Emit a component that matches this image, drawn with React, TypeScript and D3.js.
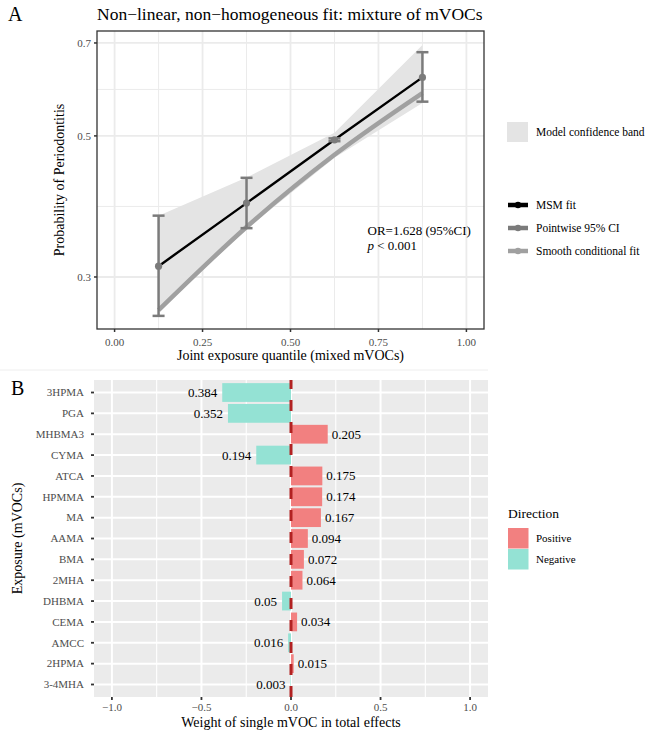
import React from "react";
import * as d3 from "d3";

// ---------- Panel A data ----------
const quantiles = [0.125, 0.375, 0.625, 0.875];
const msmFit = [0.312, 0.392, 0.493, 0.618];
const ciLower = [0.2606, 0.358, 0.4905, 0.566];
const ciUpper = [0.3746, 0.4296, 0.4955, 0.677];
const smoothFit = [0.266, 0.3595, 0.467, 0.584];
const bandLower = [0.2645, 0.357, 0.462, 0.563];
const bandUpper = [0.3746, 0.43, 0.5056, 0.695];
const xTicksA = [0, 0.25, 0.5, 0.75, 1];
const xTickLabelsA = ["0.00", "0.25", "0.50", "0.75", "1.00"];
const yTicksA = [0.3, 0.5, 0.7];
const yTickLabelsA = ["0.3", "0.5", "0.7"];

// ---------- Panel B data ----------
const exposures = ["3HPMA", "PGA", "MHBMA3", "CYMA", "ATCA", "HPMMA", "MA", "AAMA", "BMA", "2MHA", "DHBMA", "CEMA", "AMCC", "2HPMA", "3-4MHA"];
const weights = [-0.384, -0.352, 0.205, -0.194, 0.175, 0.174, 0.167, 0.094, 0.072, 0.064, -0.05, 0.034, -0.016, 0.015, -0.003];
const xTicksB = [-1, -0.5, 0, 0.5, 1];
const xTickLabelsB = ["\u22121.0", "\u22120.5", "0.0", "0.5", "1.0"];
const directions = ["Positive", "Negative"];

const FONT = "'Liberation Serif', 'Times New Roman', serif";
const AXIS_TEXT = "#4d4d4d";
const BAND = "#e4e4e4";
const CI_COL = "#7b7b7b";
const SMOOTH_COL = "#a0a0a0";
const POS_COL = "#F28080";
const NEG_COL = "#94E2D4";

export default function App() {
  // Panel A geometry
  const aL = 97, aR = 484, aT = 31, aB = 329;
  const xA = d3.scaleLinear().domain([-0.05, 1.05]).range([aL, aR]);
  const yA = d3.scaleLog().domain([0.2485, 0.731]).range([aB, aT]);
  const xMinorA = d3.pairs(xTicksA).map(([a, b]) => (a + b) / 2);
  const yMinorA = d3.pairs(yTicksA).map(([a, b]) => Math.sqrt(a * b));

  const bandArea = d3.area<number>()
    .x((_, i) => xA(quantiles[i]))
    .y0((_, i) => yA(bandLower[i]))
    .y1((_, i) => yA(bandUpper[i]))(quantiles);
  const smoothPath = d3.line<number>()
    .x((_, i) => xA(quantiles[i]))
    .y((d) => yA(d))
    .curve(d3.curveMonotoneX)(smoothFit);
  const msmPath = d3.line<number>()
    .x((_, i) => xA(quantiles[i]))
    .y((d) => yA(d))(msmFit);

  // Panel B geometry
  const bL = 94, bR = 488, bT = 380, bB = 697;
  const xB = d3.scaleLinear().domain([-1.1, 1.1]).range([bL, bR]);
  const yB = d3.scaleBand<string>().domain(exposures).range([bT, bB]).paddingInner(0.1).paddingOuter(0.15);
  const xMinorB = d3.pairs(xTicksB).map(([a, b]) => (a + b) / 2);
  const colorB = d3.scaleOrdinal<string, string>().domain(directions).range([POS_COL, NEG_COL]);

  const legendLines = [
    { label: "MSM fit", color: "#000000" },
    { label: "Pointwise 95% CI", color: CI_COL },
    { label: "Smooth conditional fit", color: SMOOTH_COL },
  ];

  return (
    <svg width={669} height={739} style={{ position: "absolute", left: 0, top: 0, background: "#fff" }} fontFamily={FONT}>
      <rect x={0} y={0} width={669} height={739} fill="#fff" />
      {/* ===== Panel A ===== */}
      <text x={8} y={21} fontSize={20} fill="#000">A</text>
      <text x={aL} y={19.5} fontSize={17.5} fill="#000">Non−linear, non−homogeneous fit: mixture of mVOCs</text>
      <rect x={aL} y={aT} width={aR - aL} height={aB - aT} fill="#fff" />
      {xMinorA.map((v) => (
        <line key={"xm" + v} x1={xA(v)} x2={xA(v)} y1={aT} y2={aB} stroke="#ebebeb" strokeWidth={1} />
      ))}
      {yMinorA.map((v) => (
        <line key={"ym" + v} y1={yA(v)} y2={yA(v)} x1={aL} x2={aR} stroke="#ebebeb" strokeWidth={1} />
      ))}
      {xTicksA.map((v) => (
        <line key={"xg" + v} x1={xA(v)} x2={xA(v)} y1={aT} y2={aB} stroke="#ebebeb" strokeWidth={1.8} />
      ))}
      {yTicksA.map((v) => (
        <line key={"yg" + v} y1={yA(v)} y2={yA(v)} x1={aL} x2={aR} stroke="#ebebeb" strokeWidth={1.8} />
      ))}
      <path d={bandArea || ""} fill={BAND} />
      <path d={smoothPath || ""} fill="none" stroke={SMOOTH_COL} strokeWidth={4.5} />
      <path d={msmPath || ""} fill="none" stroke="#000" strokeWidth={2.4} />
      {quantiles.map((q, i) => (
        <g key={"eb" + q} stroke={CI_COL} strokeWidth={2.5}>
          <line x1={xA(q)} x2={xA(q)} y1={yA(ciLower[i])} y2={yA(ciUpper[i])} />
          <line x1={xA(q) - 6} x2={xA(q) + 6} y1={yA(ciLower[i])} y2={yA(ciLower[i])} />
          <line x1={xA(q) - 6} x2={xA(q) + 6} y1={yA(ciUpper[i])} y2={yA(ciUpper[i])} />
        </g>
      ))}
      {quantiles.map((q, i) => (
        <circle key={"pt" + q} cx={xA(q)} cy={yA(msmFit[i])} r={3.6} fill={CI_COL} />
      ))}
      <rect x={aL} y={aT} width={aR - aL} height={aB - aT} fill="none" stroke="#333" strokeWidth={1.3} />
      {/* annotation */}
      <text x={367.5} y={235} fontSize={13} fill="#000">OR=1.628 (95%CI)</text>
      <text x={367.5} y={250} fontSize={13} fill="#000"><tspan fontStyle="italic">p</tspan> &lt; 0.001</text>
      {/* axes A */}
      {yTicksA.map((v, i) => (
        <g key={"yt" + v}>
          <line x1={aL - 3} x2={aL} y1={yA(v)} y2={yA(v)} stroke="#333" strokeWidth={1.5} />
          <text x={aL - 6} y={yA(v)} dy="0.35em" textAnchor="end" fontSize={11} fill={AXIS_TEXT}>{yTickLabelsA[i]}</text>
        </g>
      ))}
      {xTicksA.map((v, i) => (
        <g key={"xt" + v}>
          <line x1={xA(v)} x2={xA(v)} y1={aB} y2={aB + 3} stroke="#333" strokeWidth={1.5} />
          <text x={xA(v)} y={aB + 17} textAnchor="middle" fontSize={11} fill={AXIS_TEXT}>{xTickLabelsA[i]}</text>
        </g>
      ))}
      <text x={(aL + aR) / 2} y={360} textAnchor="middle" fontSize={14} fill="#000">Joint exposure quantile (mixed mVOCs)</text>
      <text transform={`translate(64,${(aT + aB) / 2}) rotate(-90)`} textAnchor="middle" fontSize={14} fill="#000">Probability of Periodontitis</text>
      {/* legend A */}
      <rect x={507} y={122} width={21} height={20} fill={BAND} />
      <text x={536} y={132} dy="0.35em" fontSize={11.5} fill="#000">Model confidence band</text>
      {legendLines.map((l, i) => (
        <g key={l.label}>
          <line x1={508} x2={528} y1={205 + i * 23} y2={205 + i * 23} stroke={l.color} strokeWidth={4.5} />
          <circle cx={518} cy={205 + i * 23} r={3.2} fill={l.color} />
          <text x={536} y={205 + i * 23} dy="0.35em" fontSize={11.5} fill="#000">{l.label}</text>
        </g>
      ))}
      <line x1={0} x2={488} y1={370} y2={370} stroke="#eeeeee" strokeWidth={1} />

      {/* ===== Panel B ===== */}
      <text x={11} y={395} fontSize={20} fill="#000">B</text>
      <rect x={bL} y={bT} width={bR - bL} height={bB - bT} fill="#ebebeb" />
      {xMinorB.map((v) => (
        <line key={"bxm" + v} x1={xB(v)} x2={xB(v)} y1={bT} y2={bB} stroke="#fff" strokeWidth={1.1} />
      ))}
      {xTicksB.map((v) => (
        <line key={"bxg" + v} x1={xB(v)} x2={xB(v)} y1={bT} y2={bB} stroke="#fff" strokeWidth={2} />
      ))}
      {exposures.map((e) => (
        <line key={"byg" + e} x1={bL} x2={bR} y1={(yB(e) || 0) + yB.bandwidth() / 2} y2={(yB(e) || 0) + yB.bandwidth() / 2} stroke="#fff" strokeWidth={2} />
      ))}
      {exposures.map((e, i) => {
        const w = weights[i];
        const x0 = xB(Math.min(0, w));
        const x1 = xB(Math.max(0, w));
        return (
          <rect key={"bar" + e} x={x0} y={yB(e)} width={x1 - x0} height={yB.bandwidth()} fill={colorB(w >= 0 ? "Positive" : "Negative")} />
        );
      })}
      {exposures.map((e, i) => {
        const w = weights[i];
        const cy = (yB(e) || 0) + yB.bandwidth() / 2;
        return (
          <text key={"lab" + e} x={w >= 0 ? xB(w) + 4 : xB(w) - 5} y={cy} dy="0.35em" textAnchor={w >= 0 ? "start" : "end"} fontSize={13} fill="#000">
            {String(Math.abs(w))}
          </text>
        );
      })}
      <line x1={xB(0)} x2={xB(0)} y1={bB} y2={bT} stroke="#B22222" strokeWidth={3} strokeDasharray="11,11" />
      {/* axes B */}
      {exposures.map((e) => {
        const cy = (yB(e) || 0) + yB.bandwidth() / 2;
        return (
          <g key={"byt" + e}>
            <line x1={bL - 3} x2={bL} y1={cy} y2={cy} stroke="#333" strokeWidth={1.8} />
            <text x={bL - 10} y={cy} dy="0.35em" textAnchor="end" fontSize={11} fill={AXIS_TEXT}>{e}</text>
          </g>
        );
      })}
      {xTicksB.map((v, i) => (
        <g key={"bxt" + v}>
          <line x1={xB(v)} x2={xB(v)} y1={bB} y2={bB + 3} stroke="#333" strokeWidth={1.8} />
          <text x={xB(v)} y={711} textAnchor="middle" fontSize={11} fill={AXIS_TEXT}>{xTickLabelsB[i]}</text>
        </g>
      ))}
      <text x={(bL + bR) / 2} y={727} textAnchor="middle" fontSize={14} fill="#000">Weight of single mVOC in total effects</text>
      <text transform={`translate(21.5,${(bT + bB) / 2}) rotate(-90)`} textAnchor="middle" fontSize={14} fill="#000">Exposure (mVOCs)</text>
      {/* legend B */}
      <text x={508} y={518} fontSize={13.5} fill="#000">Direction</text>
      {directions.map((d, i) => (
        <g key={d}>
          <rect x={508} y={528 + i * 21} width={20.5} height={20.5} fill={colorB(d)} />
          <text x={536} y={538 + i * 21.5} dy="0.35em" fontSize={11} fill="#000">{d}</text>
        </g>
      ))}
    </svg>
  );
}
